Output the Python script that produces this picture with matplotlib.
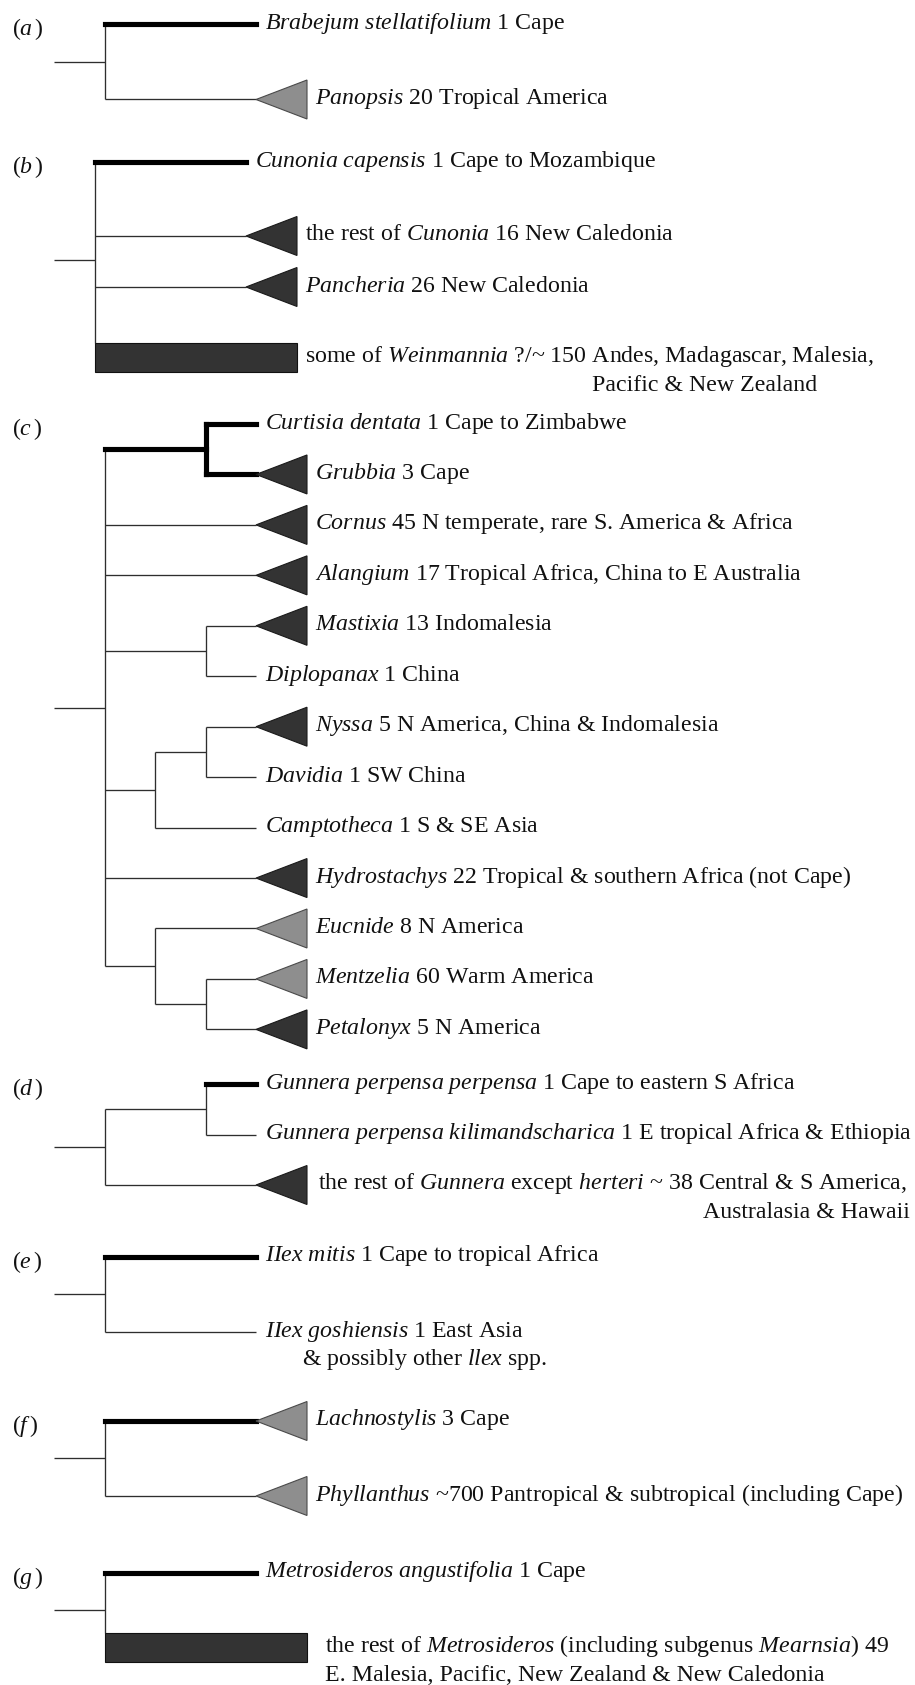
import re
import matplotlib
matplotlib.use("Agg")
import matplotlib.pyplot as plt
from matplotlib.patches import Polygon, Rectangle

plt.rcParams["font.family"] = ["Liberation Serif", "DejaVu Serif"]
plt.rcParams["mathtext.fontset"] = "custom"
plt.rcParams["mathtext.rm"] = "Liberation Serif"
plt.rcParams["mathtext.it"] = "Liberation Serif:italic"
plt.rcParams["mathtext.bf"] = "Liberation Serif:bold"

# ---------------------------------------------------------------------------
# Taxa: (name, number of species, distribution, clade symbol, Cape lineage)
# *...* marks italic text, "\n" starts a continuation line.
# ---------------------------------------------------------------------------
LEAVES_A = [
    ("*Brabejum stellatifolium*", "1", "Cape", "line", True),
    ("*Panopsis*", "20", "Tropical America", "light", False),
]
TREE_A = (0, 1)

LEAVES_B = [
    ("*Cunonia capensis*", "1", "Cape to Mozambique", "line", True),
    ("the rest of *Cunonia*", "16", "New Caledonia", "dark", False),
    ("*Pancheria*", "26", "New Caledonia", "dark", False),
    ("some of *Weinmannia*", "?/~ 150",
     "Andes, Madagascar, Malesia,\nPacific & New Zealand", "bar", False),
]
TREE_B = (0, 1, 2, 3)

LEAVES_C = [
    ("*Curtisia dentata*", "1", "Cape to Zimbabwe", "line", True),
    ("*Grubbia*", "3", "Cape", "dark", True),
    ("*Cornus*", "45", "N temperate, rare S. America & Africa", "dark", False),
    ("*Alangium*", "17", "Tropical Africa, China to E Australia", "dark", False),
    ("*Mastixia*", "13", "Indomalesia", "dark", False),
    ("*Diplopanax*", "1", "China", "line", False),
    ("*Nyssa*", "5", "N America, China & Indomalesia", "dark", False),
    ("*Davidia*", "1", "SW China", "line", False),
    ("*Camptotheca*", "1", "S & SE Asia", "line", False),
    ("*Hydrostachys*", "22", "Tropical & southern Africa (not Cape)", "dark", False),
    ("*Eucnide*", "8", "N America", "light", False),
    ("*Mentzelia*", "60", "Warm America", "light", False),
    ("*Petalonyx*", "5", "N America", "dark", False),
]
TREE_C = ((0, 1), 2, 3, (4, 5), ((6, 7), 8), 9, (10, (11, 12)))

LEAVES_D = [
    ("*Gunnera perpensa perpensa*", "1", "Cape to eastern S Africa", "line", True),
    ("*Gunnera perpensa kilimandscharica*", "1",
     "E tropical Africa & Ethiopia", "line", False),
    ("the rest of *Gunnera* except *herteri*", "~ 38",
     "Central & S America,\nAustralasia & Hawaii", "dark", False),
]
TREE_D = ((0, 1), 2)

LEAVES_E = [
    ("*IIex mitis*", "1", "Cape to tropical Africa", "line", True),
    ("*IIex goshiensis*", "1", "East Asia\n& possibly other *llex* spp.", "line", False),
]
TREE_E = (0, 1)

LEAVES_F = [
    ("*Lachnostylis*", "3", "Cape", "light", True),
    ("*Phyllanthus*", "~700", "Pantropical & subtropical (including Cape)", "light", False),
]
TREE_F = (0, 1)

LEAVES_G = [
    ("*Metrosideros angustifolia*", "1", "Cape", "line", True),
    ("the rest of *Metrosideros* (including subgenus *Mearnsia*)", "49",
     "\nE. Malesia, Pacific, New Zealand & New Caledonia", "bar", False),
]
TREE_G = (0, 1)

PANELS = [
    ("a", LEAVES_A, TREE_A),
    ("b", LEAVES_B, TREE_B),
    ("c", LEAVES_C, TREE_C),
    ("d", LEAVES_D, TREE_D),
    ("e", LEAVES_E, TREE_E),
    ("f", LEAVES_F, TREE_F),
    ("g", LEAVES_G, TREE_G),
]

# ---------------------------------------------------------------------------
# Layout (pixel units, y grows downwards)
# ---------------------------------------------------------------------------
W, H = 915, 1685
STEM_X = 54          # left end of each root stem
ROOT_X = 105         # root connector of every panel
STEP = 50.5          # distance between nested connectors (tip-aligned)
TIP_X = 256          # end of every terminal branch
WEDGE_W, WEDGE_H = 51, 39
BAR_H = 29
LINE_GAP = 29        # spacing of continuation lines
FONT = 17.2

ROWS = {
    "a": [24, 99.5],
    "b": [162, 236, 287, 357.5],
    "c": [424 + 50.45 * i for i in range(13)],
    "d": [1084, 1135, 1185],
    "e": [1257, 1332],
    "f": [1421, 1496],
    "g": [1573, 1647.5],
}
SHIFT = {"b": -10}
LABEL_NUDGE = {("g", 1): 10, ("d", 2): 3}
# continuation line anchors: x position and horizontal alignment
CONT = {("b", 3): (592, "left"), ("d", 2): (910, "right"),
        ("e", 1): (302, "left"), ("g", 1): (None, "left")}

THIN_LW, THICK_LW = 0.95, 3.7
LINE_COL = "#2e2e2e"
DARK, LIGHT = "#333333", "#8e8e8e"
TEXT_COL = "#111111"


def mt(s):
    """Turn *italic* markup into mathtext."""
    def rep(m):
        return r"$\mathit{" + m.group(1).replace(" ", r"\ ") + "}$"
    return re.sub(r"\*([^*]+)\*", rep, s)


def leaves_of(node):
    if isinstance(node, int):
        return [node]
    out = []
    for ch in node:
        out += leaves_of(ch)
    return out


def height(node):
    if isinstance(node, int):
        return 0
    return 1 + max(height(ch) for ch in node)


def node_y(node, rows):
    if isinstance(node, int):
        return rows[node]
    ys = [node_y(ch, rows) for ch in node]
    return (ys[0] + ys[-1]) / 2


fig = plt.figure(figsize=(W / 100, H / 100), dpi=100)
ax = fig.add_axes([0, 0, 1, 1])
ax.set_xlim(0, W)
ax.set_ylim(H, 0)
ax.axis("off")


def hline(x0, x1, y, cape):
    if cape:
        ax.plot([x0, x1], [y, y], color="black", lw=THICK_LW,
                solid_capstyle="projecting", zorder=3)
    else:
        ax.plot([x0, x1], [y, y], color=LINE_COL, lw=THIN_LW,
                solid_capstyle="butt", zorder=2)


def vline(x, y0, y1, cape):
    if cape:
        ax.plot([x, x], [y0, y1], color="black", lw=THICK_LW,
                solid_capstyle="projecting", zorder=3)
    else:
        ax.plot([x, x], [y0, y1], color=LINE_COL, lw=THIN_LW,
                solid_capstyle="butt", zorder=2)


def draw_label(letter, idx, leaf, y, shift):
    name, count, dist, kind, _ = leaf
    if kind == "line":
        x = TIP_X + shift + 9
    else:
        x = TIP_X + WEDGE_W + shift + 8
    x += LABEL_NUDGE.get((letter, idx), 0)
    full = f"{name} {count} {dist}"
    lines = full.split("\n")
    first = lines[0].rstrip()
    ax.text(x, y + 4.5, mt(first), fontsize=FONT, color=TEXT_COL,
            ha="left", va="baseline", zorder=5)
    for k, extra in enumerate(lines[1:], start=1):
        cx, ha = CONT.get((letter, idx), (None, "left"))
        cx = x if cx is None else cx
        ax.text(cx, y + 4.5 + k * LINE_GAP, mt(extra.strip()), fontsize=FONT,
                color=TEXT_COL, ha=ha, va="baseline", zorder=5)


def node_x(node, is_root, shift):
    if is_root:
        return ROOT_X + shift
    return TIP_X + shift - height(node) * STEP


def draw_node(letter, node, is_root, rows, leaves, shift):
    x = node_x(node, is_root, shift)
    ends = []
    for ch in node:
        cape = all(leaves[i][4] for i in leaves_of(ch))
        if isinstance(ch, int):
            y = rows[ch]
            kind = leaves[ch][3]
            if kind == "bar":
                x1 = TIP_X + WEDGE_W + shift
                ax.add_patch(Rectangle((x, y - BAR_H / 2), x1 - x, BAR_H,
                                       facecolor=DARK, edgecolor="#111111",
                                       lw=0.8, zorder=4))
                ends.append(y - BAR_H / 2)
            else:
                hline(x, TIP_X + shift, y, cape)
                if kind in ("dark", "light"):
                    tx = TIP_X + shift
                    fc = DARK if kind == "dark" else LIGHT
                    ec = "#1a1a1a" if kind == "dark" else "#4a4a4a"
                    ax.add_patch(Polygon(
                        [(tx, y), (tx + WEDGE_W, y - WEDGE_H / 2),
                         (tx + WEDGE_W, y + WEDGE_H / 2)],
                        closed=True, facecolor=fc, edgecolor=ec, lw=0.8,
                        zorder=4))
                ends.append(y)
            draw_label(letter, ch, leaves[ch], y, shift)
        else:
            cy = node_y(ch, rows)
            hline(x, node_x(ch, False, shift), cy, cape)
            draw_node(letter, ch, False, rows, leaves, shift)
            ends.append(cy)
    all_cape = all(leaves[i][4] for i in leaves_of(node))
    vline(x, min(ends), max(ends), all_cape)


for letter, leaves, tree in PANELS:
    rows = ROWS[letter]
    shift = SHIFT.get(letter, 0)
    draw_node(letter, tree, True, rows, leaves, shift)
    ry = node_y(tree, rows)
    hline(STEM_X, ROOT_X + shift, ry, False)
    ax.text(12, rows[0] + 5, "($\\mathit{" + letter + "}\\,$)", fontsize=FONT,
            color=TEXT_COL, ha="left", va="center")

fig.savefig("out.png", dpi=100, facecolor="white")
